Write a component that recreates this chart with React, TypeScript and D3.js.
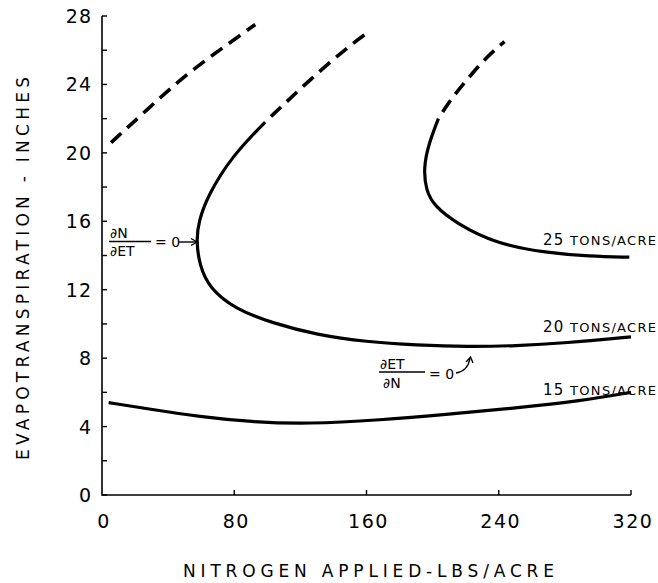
import React from "react";
import * as d3 from "d3";

const WIDTH = 658;
const HEIGHT = 583;

// axis ticks
const xTicks = [0, 80, 160, 240, 320];
const yTicks = [0, 4, 8, 12, 16, 20, 24, 28];
const yMinorTicks = [2, 6, 10, 14, 18, 22, 26];

// [N applied, ET]
const leftDashed: [number, number][] = [
  [5.5, 20.6], [27, 22.5], [48.5, 24.4], [72.3, 26.1], [92.7, 27.5],
];
const tons20Solid: [number, number][] = [
  [98.7, 21.8], [78.5, 19.8], [64, 17.5], [58.5, 16.0], [57, 14.9], [59, 13.4],
  [65, 12.1], [80, 10.9], [103, 10.05], [130, 9.36], [160, 8.95], [190, 8.76],
  [222, 8.66], [250, 8.72], [280, 8.88], [320, 9.24],
];
const tons20Dashed: [number, number][] = [
  [98.7, 21.8], [127, 24.4], [151.4, 26.4], [160.5, 27.0],
];
const tons25Solid: [number, number][] = [
  [203.5, 22.0], [197.5, 20.5], [194.5, 19.1], [196, 17.8], [201, 16.9],
  [214, 15.9], [238, 14.7], [269, 14.15], [295, 13.95], [319, 13.9],
];
const tons25Dashed: [number, number][] = [
  [203.5, 22.0], [210, 23.0], [220, 24.2], [232.5, 25.6], [243.5, 26.5],
];
const tons15: [number, number][] = [
  [4, 5.4], [30, 5.0], [59, 4.58], [90, 4.27], [125, 4.15], [168, 4.38],
  [210, 4.72], [250, 5.08], [290, 5.5], [320, 6.0],
];

const FONT = "'DejaVu Sans', sans-serif";

export default function App() {
  const x = d3.scaleLinear().domain([0, 320]).range([102, 631]);
  const y = d3.scaleLinear().domain([0, 28]).range([495, 16]);

  const line = d3
    .line<[number, number]>()
    .x((d) => x(d[0]))
    .y((d) => y(d[1]))
    .curve(d3.curveBasis);

  const solid = { fill: "none", stroke: "#000", strokeWidth: 3.2 };
  const dashed = { ...solid, strokeWidth: 3.6, strokeDasharray: "14 8" };

  return (
    <svg
      width={WIDTH}
      height={HEIGHT}
      style={{ position: "absolute", left: 0, top: 0, background: "#fff" }}
    >
      {/* axes */}
      <path
        d={`M${x(0)},${y(28)}V${y(0)}H${x(320)}`}
        fill="none"
        stroke="#000"
        strokeWidth={1.6}
      />
      {yTicks.concat(yMinorTicks).map((t) => (
        <line key={"yt" + t} x1={x(0)} x2={x(0) + 5} y1={y(t)} y2={y(t)} stroke="#000" strokeWidth={1.4} />
      ))}
      {xTicks.slice(1).map((t) => (
        <line key={"xt" + t} x1={x(t)} x2={x(t)} y1={y(0)} y2={y(0) - 5} stroke="#000" strokeWidth={1.4} />
      ))}
      {yTicks.map((t) => (
        <text
          key={"yl" + t}
          x={x(0) - 10}
          y={y(t) + 7}
          textAnchor="end"
          fontFamily={FONT}
          fontSize={19}
          letterSpacing={1}
        >
          {t}
        </text>
      ))}
      {xTicks.map((t) => (
        <text
          key={"xl" + t}
          x={x(t) + 2}
          y={528}
          textAnchor="middle"
          fontFamily={FONT}
          fontSize={19}
          letterSpacing={1.5}
        >
          {t}
        </text>
      ))}

      {/* axis titles */}
      <text
        x={183}
        y={577}
        fontFamily={FONT}
        fontSize={17}
        textLength={371}
        lengthAdjust="spacing"
      >
        NITROGEN APPLIED-LBS/ACRE
      </text>
      <text
        transform="translate(29,460) rotate(-90)"
        fontFamily={FONT}
        fontSize={17}
        textLength={383}
        lengthAdjust="spacing"
      >
        EVAPOTRANSPIRATION - INCHES
      </text>

      {/* curves */}
      <path d={line(leftDashed) ?? ""} {...dashed} />
      <path d={line(tons20Solid) ?? ""} {...solid} />
      <path d={line(tons20Dashed) ?? ""} {...dashed} strokeDashoffset={14} />
      <path d={line(tons25Solid) ?? ""} {...solid} />
      <path d={line(tons25Dashed) ?? ""} {...dashed} strokeDashoffset={14} />
      <path d={line(tons15) ?? ""} {...solid} />

      {/* curve labels */}
      {[
        ["25", 245],
        ["20", 332],
        ["15", 395],
      ].map(([n, by]) => (
        <text
          key={n as string}
          x={543}
          y={by as number}
          fontFamily={FONT}
          fontSize={13}
          textLength={113}
          lengthAdjust="spacing"
        >
          <tspan fontSize={15}>{n}</tspan> TONS/ACRE
        </text>
      ))}

      {/* dN/dET = 0 annotation */}
      <g fontFamily={FONT} fontSize={14}>
        <text x={110} y={238}>∂N</text>
        <line x1={109} x2={151} y1={241.5} y2={241.5} stroke="#000" strokeWidth={1.4} />
        <text x={110} y={256}>∂ET</text>
        <text x={155} y={247}>= 0</text>
        <line x1={179} x2={196} y1={242} y2={242} stroke="#000" strokeWidth={1.4} />
        <path d="M191,238.5L197,242L191,245.5" fill="none" stroke="#000" strokeWidth={1.4} />
      </g>

      {/* dET/dN = 0 annotation */}
      <g fontFamily={FONT} fontSize={14}>
        <text x={380} y={369}>∂ET</text>
        <line x1={379} x2={425} y1={372} y2={372} stroke="#000" strokeWidth={1.4} />
        <text x={383} y={388}>∂N</text>
        <text x={429} y={379}>= 0</text>
        <path d="M456,373Q468,371 470,358" fill="none" stroke="#000" strokeWidth={1.4} />
        <path d="M466,362L470.5,357L473,363" fill="none" stroke="#000" strokeWidth={1.4} />
      </g>
    </svg>
  );
}
